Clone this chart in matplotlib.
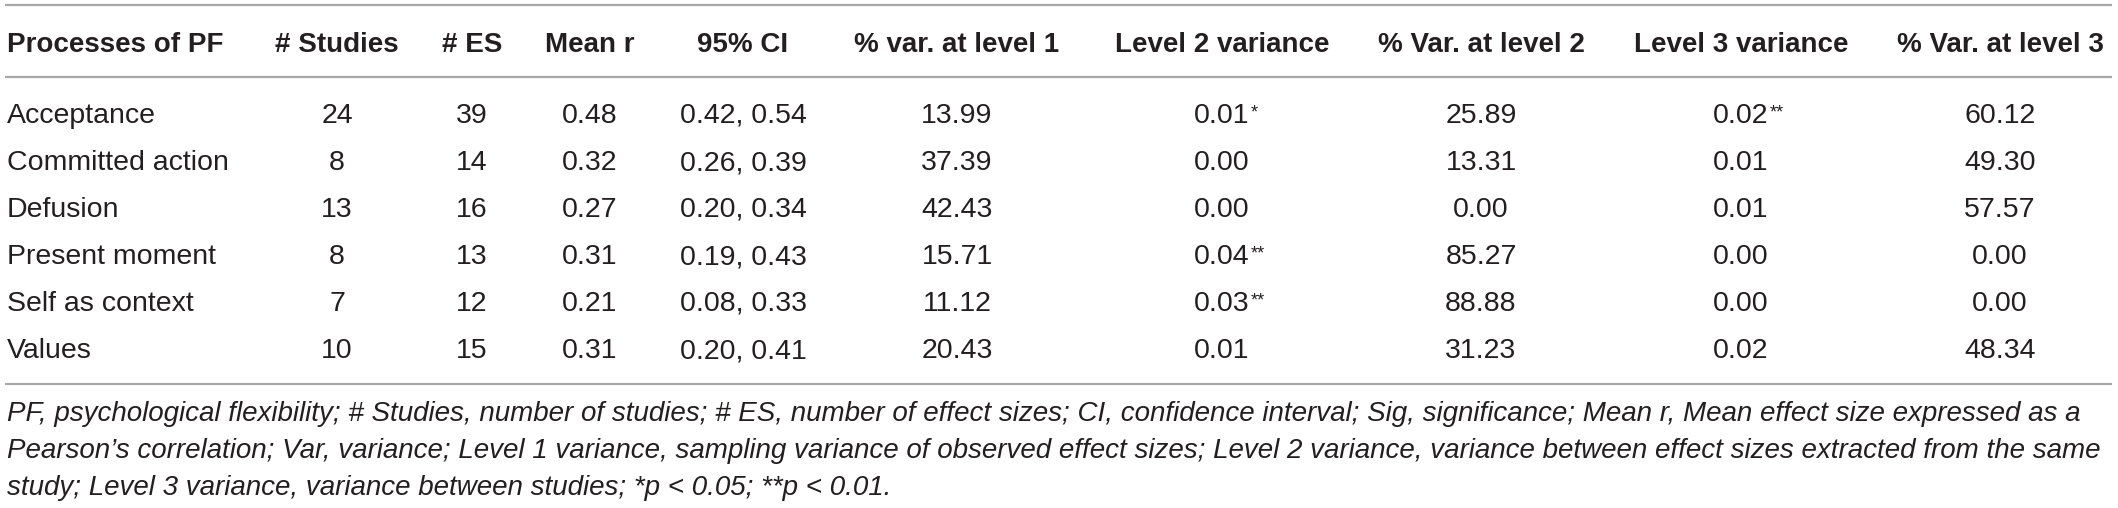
import matplotlib
matplotlib.use('Agg')
import matplotlib.pyplot as plt

# Datos de la tabla
headers = ['Processes of PF', '# Studies', '# ES', 'Mean r', '95% CI',
           '% var. at level 1', 'Level 2 variance', '% Var. at level 2',
           'Level 3 variance', '% Var. at level 3']
processes = ['Acceptance', 'Committed action', 'Defusion', 'Present moment',
             'Self as context', 'Values']
n_studies = ['24', '8', '13', '8', '7', '10']
n_es = ['39', '14', '16', '13', '12', '15']
mean_r = ['0.48', '0.32', '0.27', '0.31', '0.21', '0.31']
ci95 = ['0.42, 0.54', '0.26, 0.39', '0.20, 0.34', '0.19, 0.43', '0.08, 0.33', '0.20, 0.41']
var_l1 = ['13.99', '37.39', '42.43', '15.71', '11.12', '20.43']
l2_var = ['0.01', '0.00', '0.00', '0.04', '0.03', '0.01']
l2_sig = ['*', '', '', '**', '**', '']
var_l2 = ['25.89', '13.31', '0.00', '85.27', '88.88', '31.23']
l3_var = ['0.02', '0.01', '0.01', '0.00', '0.00', '0.02']
l3_sig = ['**', '', '', '', '', '']
var_l3 = ['60.12', '49.30', '57.57', '0.00', '0.00', '48.34']
notes = ["PF, psychological flexibility; # Studies, number of studies; # ES, number of effect sizes; "
         "CI, confidence interval; Sig, significance; Mean r, Mean effect size expressed as a",
         "Pearson\u2019s correlation; Var, variance; Level 1 variance, sampling variance of observed "
         "effect sizes; Level 2 variance, variance between effect sizes extracted from the same",
         "study; Level 3 variance, variance between studies; *p < 0.05; **p < 0.01."]

# Layout (pixeles)
W, H = 2118, 508
col_x = [7, 337, 472, 590, 743, 957, 1222, 1481, 1741, 2000]
head_y = 52
row_y0, row_dy = 123, 47
note_y0, note_dy = 421, 37
txt = '#231f20'
lin = '#a8a8a8'
fs_head, fs_cell, fs_note = 20, 20.5, 20

plt.rcParams['font.family'] = ['Liberation Sans', 'DejaVu Sans']
fig = plt.figure(figsize=(W/100, H/100), dpi=100)
ax = fig.add_axes([0, 0, 1, 1])
ax.set_xlim(0, W); ax.set_ylim(H, 0)
ax.axis('off')

for yl in [5, 77, 384]:
    ax.plot([5, 2112], [yl, yl], '-', color=lin, linewidth=1.6, solid_capstyle='butt')

for i, hd in enumerate(headers):
    ax.text(col_x[i], head_y, hd, ha='left' if i == 0 else 'center', va='baseline',
            fontsize=fs_head, fontweight='bold', color=txt)

def star(t, s):
    if s:
        ax.annotate(s, xy=(1, 1), xycoords=t, xytext=(0.5, -1), textcoords='offset points',
                    ha='left', va='top', fontsize=13, color=txt)

cols = [n_studies, n_es, mean_r, ci95, var_l1, l2_var, var_l2, l3_var, var_l3]
for r in range(len(processes)):
    y = row_y0 + r*row_dy
    ax.text(col_x[0], y, processes[r], ha='left', va='baseline', fontsize=fs_cell, color=txt)
    for j, c in enumerate(cols):
        t = ax.text(col_x[j+1], y, c[r], ha='center', va='baseline', fontsize=fs_cell, color=txt)
        if j == 5:
            star(t, l2_sig[r])
        if j == 7:
            star(t, l3_sig[r])

for k, nt in enumerate(notes):
    ax.text(7, note_y0 + k*note_dy, nt, ha='left', va='baseline', fontsize=fs_note,
            style='italic', color=txt)

fig.savefig('out.png', dpi=100)
